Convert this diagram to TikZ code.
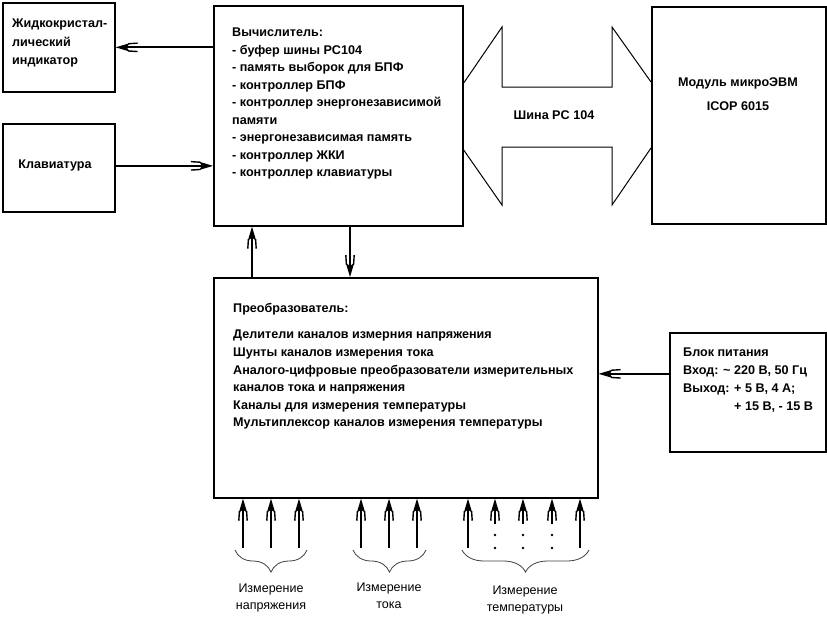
\documentclass[tikz,border=0pt]{standalone}
\usepackage{fontspec}
\setmainfont{Liberation Sans}
\usetikzlibrary{arrows.meta,decorations.pathreplacing}
\pgfdeclarearrow{
  name = Fork,
  setup code = {
    \pgfarrowssettipend{0pt}
    \pgfarrowssetlineend{-9pt}
    \pgfarrowssetbackend{-22pt}
    \pgfarrowshullpoint{0pt}{0pt}
    \pgfarrowsupperhullpoint{-22pt}{5pt}
  },
  drawing code = {
    \pgfsetdash{}{0pt}
    \pgfsetmiterjoin
    \pgfpathmoveto{\pgfqpoint{0pt}{0pt}}
    \pgfpathlineto{\pgfqpoint{-14pt}{4.2pt}}
    \pgfpathlineto{\pgfqpoint{-11pt}{0pt}}
    \pgfpathlineto{\pgfqpoint{-14pt}{-4.2pt}}
    \pgfpathclose
    \pgfusepathqfill
    \pgfsetlinewidth{1.4pt}
    \pgfpathmoveto{\pgfqpoint{-12.5pt}{3.6pt}}
    \pgfpathlineto{\pgfqpoint{-22pt}{4.2pt}}
    \pgfpathmoveto{\pgfqpoint{-12.5pt}{-3.6pt}}
    \pgfpathlineto{\pgfqpoint{-22pt}{-4.2pt}}
    \pgfusepathqstroke
  }
}
\begin{document}
\begin{tikzpicture}[x=1pt,y=-1pt,
  box/.style={draw, line width=1.7pt, inner sep=0pt, anchor=north west},
  txt/.style={font=\fontsize{12.6}{17.5}\selectfont\bfseries, align=left, inner sep=0pt, anchor=north west},
  conn/.style={line width=1.8pt, -{Fork}},
  bus/.style={line width=1pt, line join=miter},
  brc/.style={decorate, decoration={brace, mirror, amplitude=22pt, aspect=0.5}, line width=0.8pt, draw=black!75},
  lbl/.style={font=\fontsize{12.5}{16.5}\selectfont, align=center, inner sep=0pt, anchor=north}
]
\useasboundingbox (0,0) rectangle (827,616);

% boxes
\node[box, minimum width=112pt, minimum height=89pt] (lcd) at (2,2) {};
\node[box, minimum width=112pt, minimum height=88pt] (kbd) at (2,123) {};
\node[box, minimum width=249pt, minimum height=220pt] (comp) at (213,5) {};
\node[box, minimum width=174pt, minimum height=217pt] (mod) at (651,6) {};
\node[box, minimum width=384pt, minimum height=220pt] (conv) at (213,277) {};
\node[box, minimum width=156pt, minimum height=119pt] (psu) at (669,332) {};

% texts
\node[txt, font=\fontsize{12.6}{18.5}\selectfont\bfseries] (lcdtxt) at (12,19) {Жидкокристал-\\лический\\индикатор};
\node[txt, anchor=center] (kbdtxt) at (55,165) {Клавиатура};
\node[txt] (comptxt) at (232,28) {Вычислитель:\\- буфер шины PC104\\- память выборок для БПФ\\- контроллер БПФ\\- контроллер энергонезависимой\\памяти\\- энергонезависимая память\\- контроллер ЖКИ\\- контроллер клавиатуры};
\node[txt, anchor=center, align=center, font=\fontsize{12.6}{24}\selectfont\bfseries] (modtxt) at (738,94) {Модуль микроЭВМ\\ICOP 6015};
\node[txt, anchor=center] (buslbl) at (554,115) {Шина PC 104};
\node[txt] (convtitle) at (233,303) {Преобразователь:};
\node[txt, font=\fontsize{12.6}{17.6}\selectfont\bfseries] (convtxt) at (233,330) {Делители каналов измерния напряжения\\Шунты каналов измерения тока\\Аналого-цифровые преобразователи измерительных\\каналов тока и напряжения\\Каналы для измерения температуры\\Мультиплексор каналов измерения температуры};
\node[txt, font=\fontsize{12.6}{18}\selectfont\bfseries] (psutxt) at (683,348) {Блок питания\\Вход: \textasciitilde{} 220 В, 50 Гц\\Выход: + 5 В, 4 А;\\\phantom{Выход: }+ 15 В, - 15 В};

% bus
\draw[bus] (comp.east |- 0,83) -- (502,27) -- (502,87) -- (612,87) -- (612,27) -- (mod.west |- 0,82);
\draw[bus] (comp.east |- 0,150) -- (502,205) -- (502,147) -- (612,147) -- (612,205) -- (mod.west |- 0,148);

% connectors
\draw[conn] (comp.west |- lcd.east) -- (lcd.east);
\draw[conn] ([yshift=2pt]kbd.east) coordinate (k) -- (k -| comp.west);
\draw[conn] ([xshift=39pt]conv.north west) -- ([xshift=39pt]comp.south west);
\draw[conn] ([xshift=137pt]comp.south west) -- ([xshift=137pt]conv.north west);
\draw[conn] ([yshift=18.5pt]psu.west) coordinate (p) -- (p -| conv.east);

% measurement inputs
\foreach \x in {243,271,299,361,389,417,468,580} {
  \coordinate (a\x) at (\x,548);
  \draw[conn] (a\x) -- (a\x |- conv.south);
}
\foreach \x in {495,523,552} {
  \coordinate (s\x) at (\x,524);
  \draw[conn] (s\x) -- (s\x |- conv.south);
  \fill (\x,535) circle (1.4);
  \fill (\x,548) circle (1.4);
}

% braces
\draw[brc] (235,550) -- (307,550);
\draw[brc] (353,550) -- (426,550);
\draw[brc] (462,550) -- (589,550);

\node[lbl] (l1) at (271,584) {Измерение\\напряжения};
\node[lbl] (l2) at (389,583) {Измерение\\тока};
\node[lbl] (l3) at (525,586) {Измерение\\температуры};
\end{tikzpicture}
\end{document}
